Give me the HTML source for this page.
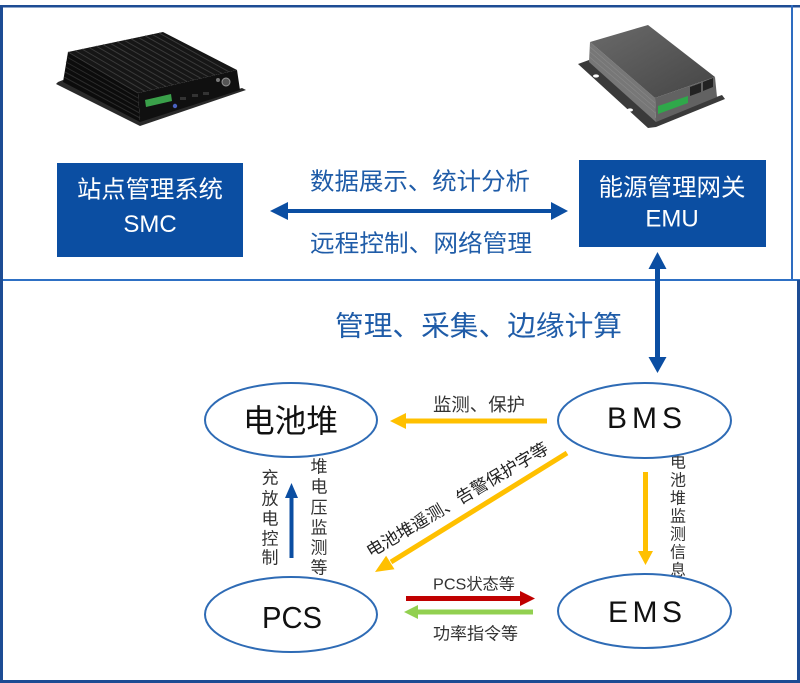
<!DOCTYPE html>
<html><head><meta charset="utf-8"><style>
html,body{margin:0;padding:0;background:#fff;}
svg{display:block;}
text{font-family:"Liberation Sans","Noto Sans CJK SC",sans-serif;}
</style></head><body>
<svg width="800" height="683" viewBox="0 0 800 683" xmlns="http://www.w3.org/2000/svg">
<defs>
<linearGradient id="emuTop" x1="0" y1="0" x2="1" y2="1">
<stop offset="0" stop-color="#6a6a6a"/><stop offset="1" stop-color="#454545"/>
</linearGradient>
</defs>
<rect x="0" y="0" width="800" height="683" fill="#fff"/>
<!-- frame -->
<rect x="0" y="5" width="800" height="2.5" fill="#1d4c94"/>
<rect x="0" y="5" width="3" height="678" fill="#1d4c94"/>
<rect x="791" y="5" width="2" height="275" fill="#2e6cc0"/>
<rect x="3" y="279" width="797" height="2" fill="#2e70c4"/>
<rect x="797" y="280" width="3" height="403" fill="#1d4c94"/>
<rect x="0" y="680" width="800" height="3" fill="#1d4c94"/>

<!-- SMC device -->
<polygon points="58,82 63,80 140,120 242,88 246,90 140,126 56,84" fill="#2a2a2a"/>
<polygon points="68,52 138,93 140,122 63,82" fill="#0c0c0c"/>
<polygon points="68,52 163,32 237,70 138,93" fill="#161616"/>
<polygon points="138,93 237,70 240,90 140,122" fill="#101010"/>
<g stroke="#3a3a3a" stroke-width="1">
<line x1="68" y1="52" x2="138" y2="93"/>
<line x1="75" y1="50.5" x2="145" y2="91.4"/>
<line x1="82" y1="49" x2="152" y2="89.8"/>
<line x1="89" y1="47.5" x2="159" y2="88.2"/>
<line x1="96" y1="46" x2="166" y2="86.5"/>
<line x1="103" y1="44.6" x2="173" y2="84.9"/>
<line x1="110" y1="43.2" x2="180" y2="83.3"/>
<line x1="117" y1="41.7" x2="187" y2="81.6"/>
<line x1="124" y1="40.2" x2="194" y2="80"/>
<line x1="131" y1="38.8" x2="201" y2="78.4"/>
<line x1="138" y1="37.3" x2="208" y2="76.7"/>
<line x1="145" y1="35.8" x2="215" y2="75.1"/>
<line x1="152" y1="34.3" x2="222" y2="73.5"/>
<line x1="159" y1="32.9" x2="229" y2="71.8"/>
</g>
<g stroke="#2c2c2c" stroke-width="1">
<line x1="67" y1="57" x2="138" y2="98"/>
<line x1="66" y1="62" x2="139" y2="103"/>
<line x1="65.5" y1="67" x2="139" y2="108"/>
<line x1="65" y1="72" x2="139.5" y2="113"/>
<line x1="64" y1="77" x2="140" y2="118"/>
</g>
<polygon points="145,100 171,94 172,101 146,107" fill="#3aa04a"/>
<circle cx="175" cy="106" r="2.2" fill="#4a62c0"/>
<rect x="180" y="97" width="6" height="3" fill="#333"/>
<rect x="192" y="94" width="6" height="3" fill="#333"/>
<rect x="203" y="92" width="6" height="3" fill="#333"/>
<circle cx="226" cy="82" r="4" fill="#555" stroke="#999" stroke-width="1"/>
<circle cx="218" cy="80" r="2" fill="#777"/>

<!-- EMU device -->
<polygon points="578,64 589,60 656,118 722,95 725,99 656,127 648,128" fill="#3a3a3a"/>
<ellipse cx="596" cy="76" rx="3" ry="1.6" fill="#fff"/>
<ellipse cx="630" cy="110" rx="3" ry="1.6" fill="#fff"/>
<polygon points="590,42 655,98 656,122 589,62" fill="#777"/>
<polygon points="590,42 648,25 715,77 655,98" fill="url(#emuTop)"/>
<polygon points="655,98 715,77 717,97 656,122" fill="#626262"/>
<g stroke="#888" stroke-width="0.6">
<line x1="590" y1="47" x2="655" y2="103"/>
<line x1="590" y1="52" x2="655.5" y2="108"/>
<line x1="589.5" y1="57" x2="655.5" y2="113"/>
</g>
<polygon points="658,106 688,96 688,103 658,114" fill="#2fa84a"/>
<polygon points="690,87 701,83 701,92 690,96" fill="#222"/>
<polygon points="703,82 713,78 713,87 703,91" fill="#222"/>

<!-- SMC box -->
<rect x="57" y="163" width="186" height="94" fill="#0b4ea2"/>
<text x="150" y="190" font-size="24" fill="#fff" text-anchor="middle" dominant-baseline="central" textLength="146" lengthAdjust="spacingAndGlyphs">站点管理系统</text>
<text x="150" y="232" font-size="24" fill="#fff" text-anchor="middle">SMC</text>

<!-- EMU box -->
<rect x="579" y="160" width="187" height="87" fill="#0b4ea2"/>
<text x="672" y="188" font-size="24" fill="#fff" text-anchor="middle" dominant-baseline="central" textLength="147" lengthAdjust="spacingAndGlyphs">能源管理网关</text>
<text x="672" y="226.5" font-size="24" fill="#fff" text-anchor="middle">EMU</text>

<!-- horizontal double arrow -->
<rect x="285" y="209" width="269" height="4" fill="#0b4ea2"/>
<polygon points="270,211 288,202 288,220" fill="#0b4ea2"/>
<polygon points="568,211 551,202 551,220" fill="#0b4ea2"/>
<text x="310" y="182" font-size="24" fill="#1f5ca8" dominant-baseline="central" textLength="220" lengthAdjust="spacingAndGlyphs">数据展示、统计分析</text>
<text x="310" y="244" font-size="24" fill="#1f5ca8" dominant-baseline="central" textLength="222" lengthAdjust="spacingAndGlyphs">远程控制、网络管理</text>

<!-- vertical double arrow -->
<rect x="655" y="267" width="5" height="92" fill="#0b4ea2"/>
<polygon points="657.5,252 648.5,269 666.5,269" fill="#0b4ea2"/>
<polygon points="657.5,373 648.5,357 666.5,357" fill="#0b4ea2"/>

<text x="335" y="326" font-size="28" fill="#1f5ca8" dominant-baseline="central" textLength="287" lengthAdjust="spacingAndGlyphs">管理、采集、边缘计算</text>

<!-- yellow BMS -> 电池堆 -->
<rect x="403" y="418.5" width="144" height="5" fill="#ffc000"/>
<polygon points="390,421 406,413 406,429" fill="#ffc000"/>
<text x="433" y="405" font-size="18" fill="#333" dominant-baseline="central" textLength="92" lengthAdjust="spacingAndGlyphs">监测、保护</text>

<!-- diagonal yellow -->
<line x1="567" y1="453" x2="391" y2="562" stroke="#ffc000" stroke-width="5"/>
<polygon points="375,572 394.5,569.3 386.1,555.7" fill="#ffc000"/>
<text transform="translate(457.5,500) rotate(-30.6)" x="0" y="0" font-size="17" fill="#222" text-anchor="middle" dominant-baseline="central" textLength="208" lengthAdjust="spacingAndGlyphs">电池堆遥测、告警保护字等</text>

<!-- yellow down BMS -> EMS -->
<rect x="643" y="472" width="5" height="81" fill="#ffc000"/>
<polygon points="645.5,565 638,551 653,551" fill="#ffc000"/>

<!-- red -->
<rect x="406" y="596" width="115" height="5" fill="#c00000"/>
<polygon points="535,598.5 520,591 520,606" fill="#c00000"/>
<text x="433" y="585" font-size="16" fill="#333" dominant-baseline="central" textLength="82" lengthAdjust="spacingAndGlyphs">PCS状态等</text>
<!-- green -->
<rect x="417" y="609.5" width="116" height="5" fill="#92d050"/>
<polygon points="404,612 418,605 418,619" fill="#92d050"/>
<text x="433" y="634" font-size="17" fill="#333" dominant-baseline="central" textLength="85" lengthAdjust="spacingAndGlyphs">功率指令等</text>

<!-- blue up -->
<rect x="289.5" y="496" width="4" height="62" fill="#0b4ea2"/>
<polygon points="291.5,483 285,498 298,498" fill="#0b4ea2"/>

<!-- vertical texts -->
<g font-size="17" fill="#333" text-anchor="middle" dominant-baseline="central">
<text x="270" y="478">充</text>
<text x="270" y="499">放</text>
<text x="270" y="519">电</text>
<text x="270" y="539">控</text>
<text x="270" y="558">制</text>
<text x="319" y="467">堆</text>
<text x="319" y="487">电</text>
<text x="319" y="508">压</text>
<text x="319" y="528">监</text>
<text x="319" y="548">测</text>
<text x="319" y="568">等</text>
</g>
<g font-size="16" fill="#333" text-anchor="middle" dominant-baseline="central">
<text x="678" y="463">电</text>
<text x="678" y="481">池</text>
<text x="678" y="499">堆</text>
<text x="678" y="517">监</text>
<text x="678" y="535">测</text>
<text x="678" y="553">信</text>
<text x="678" y="571">息</text>
</g>

<!-- ellipses -->
<g fill="#fff" stroke="#2e6bb5" stroke-width="2">
<ellipse cx="291" cy="420" rx="86" ry="37"/>
<ellipse cx="644.5" cy="420.5" rx="86.5" ry="37.5"/>
<ellipse cx="291" cy="614.5" rx="86" ry="37.5"/>
<ellipse cx="644.5" cy="611" rx="86.5" ry="37"/>
</g>
<text x="290.5" y="421" font-size="32" fill="#111" text-anchor="middle" dominant-baseline="central" textLength="95" lengthAdjust="spacingAndGlyphs">电池堆</text>
<text x="607" y="428" font-size="30" fill="#111" textLength="75" lengthAdjust="spacing">BMS</text>
<text x="262" y="628" font-size="31" fill="#111" textLength="60" lengthAdjust="spacingAndGlyphs">PCS</text>
<text x="608" y="622" font-size="30" fill="#111" textLength="74" lengthAdjust="spacing">EMS</text>
</svg>
</body></html>
